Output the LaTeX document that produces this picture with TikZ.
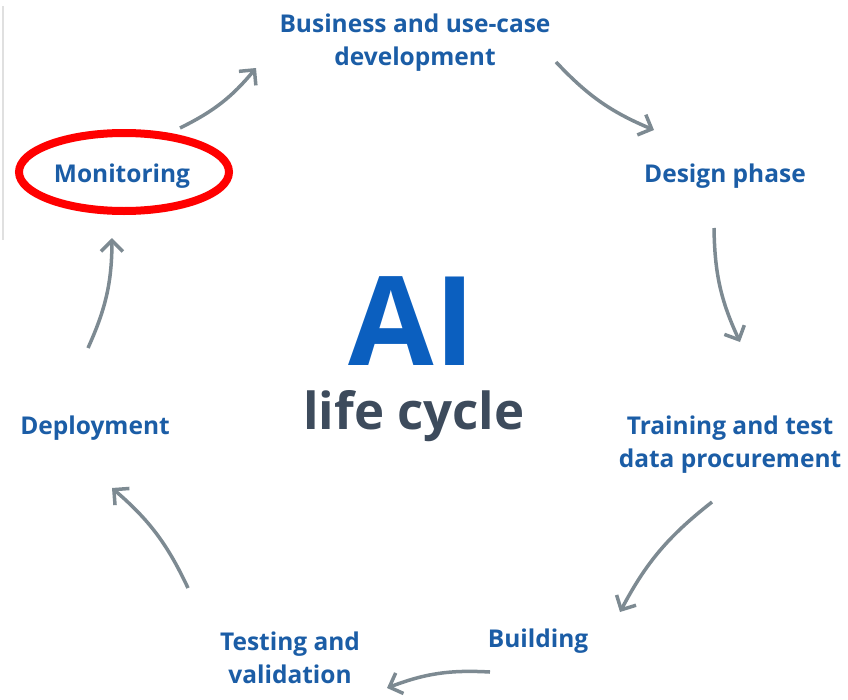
\documentclass[tikz,border=0pt]{standalone}
\usepackage{fontspec}
\setmainfont{Open Sans}
\usetikzlibrary{arrows.meta}
\usepackage{xcolor}
\definecolor{phaseblue}{HTML}{1B5DA6}
\definecolor{aiblue}{HTML}{0B5FBF}
\definecolor{cyclegray}{HTML}{3D4B5C}
\definecolor{arrowgray}{HTML}{7D8A92}

\begin{document}
\begin{tikzpicture}[x=1pt, y=-1pt]
	\tikzstyle{phase}=[
	text=phaseblue,
	font=\fontsize{24.5}{33}\selectfont\bfseries,
	align=center,
	inner sep=0pt
	]
	\tikzstyle{cyc}=[
	draw=arrowgray,
	line width=3.5pt,
	-{Straight Barb[length=11pt,width=22pt]}
	]
	\useasboundingbox (0,0) rectangle (848,699);
	\draw[black!12, line width=1.5pt] (3,6) -- (3,240);
	% centre title
	\node[text=aiblue, font=\fontsize{124}{124}\selectfont\bfseries] (ai) at (412,321) {AI};
	\node[text=cyclegray, font=\fontsize{51}{51}\selectfont\bfseries] (life) at (414,416) {life cycle};
	% phases, clockwise from the top
	\node[phase] (bus) at (415,43) {Business and use-case\\development};
	\node[phase] (des) at (725,176) {Design phase};
	\node[phase] (train) at (730,445) {Training and test\\data procurement};
	\node[phase] (build) at (538,641) {Building};
	\node[phase] (test) at (290,658) {Testing and\\validation};
	\node[phase] (dep) at (95,428) {Deployment};
	\node[phase] (mon) at (122,176) {Monitoring};
	\draw[red, line width=8pt] (124,172) ellipse [x radius=105, y radius=39];
	% arrow ends
	\coordinate (A1) at (180,128);  \coordinate (A2) at (256,68);
	\coordinate (B1) at (556,62);   \coordinate (B2) at (654,130);
	\coordinate (C1) at (714,228);  \coordinate (C2) at (740,342);
	\coordinate (D1) at (712,502);  \coordinate (D2) at (620,612);
	\coordinate (E1) at (490,672);  \coordinate (E2) at (387,688);
	\coordinate (F1) at (188,588);  \coordinate (F2) at (112,488);
	\coordinate (G1) at (88,348);   \coordinate (G2) at (112,238);
	\draw [cyc] (A1) to [bend right=12] (A2);
	\draw [cyc] (B1) to [bend right=12] (B2);
	\draw [cyc] (C1) to [bend right=12] (C2);
	\draw [cyc] (D1) to [bend right=12] (D2);
	\draw [cyc] (E1) to [bend right=12] (E2);
	\draw [cyc] (F1) to [bend right=12] (F2);
	\draw [cyc] (G1) to [bend right=12] (G2);
\end{tikzpicture}
\end{document}
